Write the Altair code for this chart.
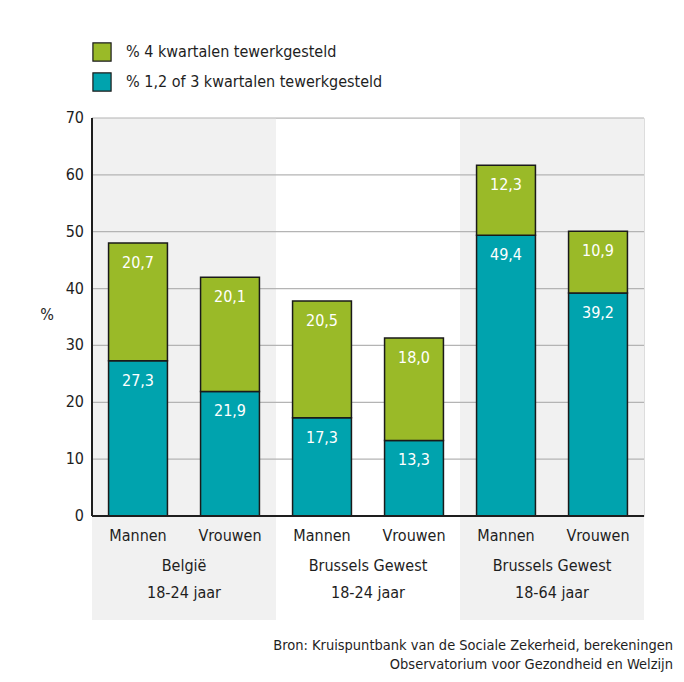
import altair as alt
import pandas as pd

# ---- data ----
bars = ["Mannen", "Vrouwen", "Mannen", "Vrouwen", "Mannen", "Vrouwen"]
groups = ["België", "Brussels Gewest", "Brussels Gewest"]
ages = ["18-24 jaar", "18-24 jaar", "18-64 jaar"]
green_vals = [20.7, 20.1, 20.5, 18.0, 12.3, 10.9]   # % 4 kwartalen tewerkgesteld
teal_vals = [27.3, 21.9, 17.3, 13.3, 49.4, 39.2]    # % 1,2 of 3 kwartalen tewerkgesteld
series = ["% 4 kwartalen tewerkgesteld", "% 1,2 of 3 kwartalen tewerkgesteld"]
y_ticks = [0, 10, 20, 30, 40, 50, 60, 70]
source_lines = ["Bron: Kruispuntbank van de Sociale Zekerheid, berekeningen",
                "Observatorium voor Gezondheid en Welzijn"]

FONT = "DejaVu Sans Condensed, Liberation Sans Narrow, sans-serif"
GREEN = "#9aba28"
TEAL = "#00a3ae"
INK = "#1e1e1e"

def fmt(v):
    return f"{v:.1f}".replace(".", ",")

rows = []
for i, (b, g, t) in enumerate(zip(bars, green_vals, teal_vals)):
    rows.append({"i": i, "x0": i + 0.18, "x1": i + 0.82, "y0": 0, "y1": t,
                 "s": series[1], "lab": fmt(t)})
    rows.append({"i": i, "x0": i + 0.18, "x1": i + 0.82, "y0": t, "y1": t + g,
                 "s": series[0], "lab": fmt(g)})
df = pd.DataFrame(rows)

xs = alt.Scale(domain=[0, 6], nice=False, zero=False)
ys = alt.Scale(domain=[0, 70], nice=False)

# gray group backgrounds
bg = pd.DataFrame({"a": [0, 4], "b": [2, 6], "lo": [-18.3, -18.3], "hi": [70, 70]})
bg_layer = alt.Chart(bg).mark_rect(color="#f1f1f1").encode(
    x=alt.X("a:Q", scale=xs, axis=None), x2="b:Q",
    y=alt.Y("lo:Q", scale=ys, axis=None), y2="hi:Q")

# grid lines
grid = pd.DataFrame({"v": y_ticks})
grid_layer = alt.Chart(grid).mark_rule(color="#b4b4b4", strokeWidth=1.2).encode(
    y=alt.Y("v:Q", scale=ys, axis=None),
    x=alt.value(0), x2=alt.value(552))

bar_layer = alt.Chart(df).mark_rect(stroke="#1a1a1a", strokeWidth=1.5).encode(
    x=alt.X("x0:Q", scale=xs, axis=None), x2="x1:Q",
    y=alt.Y("y0:Q", scale=ys, axis=None), y2="y1:Q",
    color=alt.Color("s:N", scale=alt.Scale(domain=series, range=[GREEN, TEAL]),
                    legend=alt.Legend(title=None, orient="none", legendX=0, legendY=-76,
                                      symbolType="square", symbolSize=330,
                                      symbolStrokeColor="#1a1a1a", symbolStrokeWidth=1.2,
                                      symbolOpacity=1, labelFont=FONT, labelFontSize=16,
                                      labelColor=INK, labelOffset=14, rowPadding=6,
                                      labelLimit=0)))

val_layer = alt.Chart(df).mark_text(color="white", font=FONT, fontSize=16, dy=20,
                                    baseline="middle").encode(
    x=alt.X("c:Q", scale=xs, axis=None), y=alt.Y("y1:Q", scale=ys, axis=None), text="lab:N"
).transform_calculate(c="datum.i + 0.5")

# y axis: tick labels, title and line
tick_df = pd.DataFrame({"v": y_ticks, "t": [str(v) for v in y_ticks]})
tick_layer = alt.Chart(tick_df).mark_text(font=FONT, fontSize=16, color=INK, align="right",
                                          baseline="middle", dx=-8).encode(
    x=alt.value(0), y=alt.Y("v:Q", scale=ys, axis=None), text="t:N")
ytitle_layer = alt.Chart(pd.DataFrame({"t": ["%"]})).mark_text(
    font=FONT, fontSize=16, color=INK, baseline="middle").encode(
    x=alt.value(-45), y=alt.value(197), text="t:N")
yline_layer = alt.Chart(pd.DataFrame({"v": [0], "w": [70]})).mark_rule(
    color=INK, strokeWidth=2).encode(
    x=alt.value(0), y=alt.Y("v:Q", scale=ys, axis=None), y2="w:Q")

base_line = alt.Chart(pd.DataFrame({"v": [0]})).mark_rule(color=INK, strokeWidth=2).encode(
    y=alt.Y("v:Q", scale=ys, axis=None), x=alt.value(0), x2=alt.value(552))

bar_labels = pd.DataFrame({"c": [i + 0.5 for i in range(6)], "t": bars, "y": [0] * 6})
bl_layer = alt.Chart(bar_labels).mark_text(font=FONT, fontSize=16, color=INK, dy=20,
                                           baseline="middle").encode(
    x=alt.X("c:Q", scale=xs, axis=None), y=alt.Y("y:Q", scale=ys, axis=None), text="t:N")

grp = pd.DataFrame({"c": [1, 3, 5], "g": groups, "a": ages, "y": [0] * 3})
g_layer = alt.Chart(grp).mark_text(font=FONT, fontSize=16, color=INK, dy=50,
                                   baseline="middle").encode(
    x=alt.X("c:Q", scale=xs, axis=None), y=alt.Y("y:Q", scale=ys, axis=None), text="g:N")
a_layer = alt.Chart(grp).mark_text(font=FONT, fontSize=16, color=INK, dy=77,
                                   baseline="middle").encode(
    x=alt.X("c:Q", scale=xs, axis=None), y=alt.Y("y:Q", scale=ys, axis=None), text="a:N")

src_layer = alt.layer(*[
    alt.Chart(pd.DataFrame({"t": [line]})).mark_text(
        font=FONT, fontSize=14.5, color=INK, align="right", baseline="middle").encode(
        x=alt.value(581), y=alt.value(528 + 19 * k), text="t:N")
    for k, line in enumerate(source_lines)])

chart = alt.layer(bg_layer, grid_layer, bar_layer, val_layer, tick_layer, ytitle_layer,
                  yline_layer, base_line, bl_layer, g_layer, a_layer, src_layer).properties(
    width=552, height=398,
    autosize=alt.AutoSizeParams(type="none"),
    padding={"left": 84, "top": 110, "right": 32, "bottom": 158},
).configure_view(stroke=None).configure(background="white")

chart.save("out.html", embed_options={"renderer": "svg", "actions": False})
